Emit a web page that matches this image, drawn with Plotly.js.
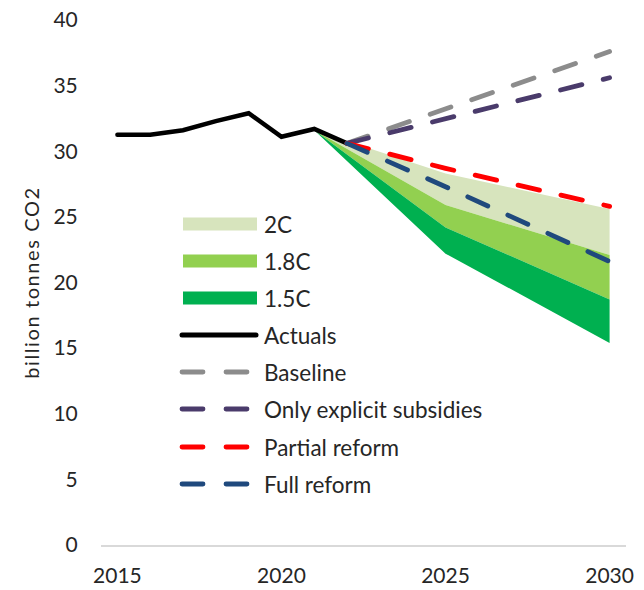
<!DOCTYPE html>
<html>
<head>
<meta charset="utf-8">
<script src="https://cdn.plot.ly/plotly-3.0.1.min.js"></script>
<style>
  html, body { margin: 0; padding: 0; background: #ffffff; }
  #chart { width: 644px; height: 590px; }
  .scatterlayer path.js-line { stroke-linecap: round; }
  .shapelayer path { stroke-linecap: round; }
  .ytitle { letter-spacing: 1.6px; }
</style>
</head>
<body>
<div id="chart"></div>
<script>
// ---- Data (billion tonnes CO2) ----
const actualYears = [2015, 2016, 2017, 2018, 2019, 2020, 2021, 2022];
const actuals     = [31.25, 31.25, 31.6, 32.3, 32.9, 31.1, 31.7, 30.6];

const projYears   = [2022, 2025, 2030];
const baseline    = [30.6, 33.2, 37.6];
const explicitOnly= [30.6, 32.5, 35.6];
const partialRef  = [30.6, 28.7, 25.8];
const fullRef     = [30.6, 27.3, 21.6];

const bandYears   = [2021, 2025, 2030];
const band2CTop   = [31.6, 28.3, 25.6];
const band2CBot   = [31.6, 25.9, 22.1];
const band18Bot   = [31.6, 24.2, 18.7];
const band15Bot   = [31.6, 22.2, 15.4];

const xTicks = [2015, 2020, 2025, 2030];
const yTicks = [0, 5, 10, 15, 20, 25, 30, 35, 40];

// ---- Styles ----
const FONT = 'Lato, "Open Sans", sans-serif';
const TXT = '#262626';
const colors = {
  c2: '#d7e4bd', c18: '#92d050', c15: '#00b050',
  actual: '#000000', base: '#8c8c8c', explicit: '#4a3b6b',
  partial: '#ff0000', full: '#1f497d'
};
const DASH = '22px,22px';

function band(name, top, bot, color) {
  return {
    type: 'scatter', mode: 'lines', name: name,
    x: bandYears.concat(bandYears.slice().reverse()),
    y: top.concat(bot.slice().reverse()),
    fill: 'toself', fillcolor: color,
    line: { width: 0, color: color },
    hoverinfo: 'skip', showlegend: false
  };
}
function line(name, x, y, color, dash, width) {
  return {
    type: 'scatter', mode: 'lines', name: name, x: x, y: y,
    line: { color: color, width: width, dash: dash },
    showlegend: false
  };
}

const traces = [
  band('2C', band2CTop, band2CBot, colors.c2),
  band('1.8C', band2CBot, band18Bot, colors.c18),
  band('1.5C', band18Bot, band15Bot, colors.c15),
  line('Actuals', actualYears, actuals, colors.actual, 'solid', 4.5),
  line('Baseline', projYears, baseline, colors.base, DASH, 4.8),
  line('Only explicit subsidies', projYears, explicitOnly, colors.explicit, DASH, 4.8),
  line('Partial reform', projYears, partialRef, colors.partial, DASH, 4.8),
  line('Full reform', projYears, fullRef, colors.full, DASH, 4.8)
];

// ---- Custom legend (paper coords) ----
const M = { l: 101, r: 18, t: 20, b: 45 };
const PW = 644 - M.l - M.r, PH = 590 - M.t - M.b;
const px = v => (v - M.l) / PW;
const py = v => (590 - M.b - v) / PH;

const legendItems = [
  { name: '2C', kind: 'patch', color: colors.c2, y: 224 },
  { name: '1.8C', kind: 'patch', color: colors.c18, y: 261 },
  { name: '1.5C', kind: 'patch', color: colors.c15, y: 298 },
  { name: 'Actuals', kind: 'solid', color: colors.actual, y: 335 },
  { name: 'Baseline', kind: 'dash', color: colors.base, y: 372 },
  { name: 'Only explicit subsidies', kind: 'dash', color: colors.explicit, y: 409 },
  { name: 'Partial reform', kind: 'dash', color: colors.partial, y: 447 },
  { name: 'Full reform', kind: 'dash', color: colors.full, y: 484 }
];
const shapes = [], annotations = [];
legendItems.forEach(it => {
  if (it.kind === 'patch') {
    shapes.push({ type: 'rect', xref: 'paper', yref: 'paper',
      x0: px(183), x1: px(257), y0: py(it.y - 6.5), y1: py(it.y + 6.5),
      fillcolor: it.color, line: { width: 0 } });
  } else {
    shapes.push({ type: 'line', xref: 'paper', yref: 'paper',
      x0: px(182), x1: px(it.kind === 'solid' ? 256 : 248), y0: py(it.y), y1: py(it.y),
      line: { color: it.color, width: it.kind === 'solid' ? 5 : 4.8,
              dash: it.kind === 'solid' ? 'solid' : '21px,23px' } });
  }
  annotations.push({ xref: 'paper', yref: 'paper', x: px(262), y: py(it.y),
    xanchor: 'left', yanchor: 'middle', showarrow: false, text: it.name,
    font: { family: FONT, size: 22.5, color: TXT } });
});

const layout = {
  width: 644, height: 590,
  margin: { l: M.l, r: M.r, t: M.t, b: M.b, pad: 0 },
  paper_bgcolor: '#ffffff', plot_bgcolor: '#ffffff',
  showlegend: false,
  font: { family: FONT, color: TXT },
  xaxis: {
    range: [2014.5, 2030.5], tickvals: xTicks, ticktext: xTicks.map(String),
    showgrid: false, zeroline: false, showline: true,
    linecolor: '#d9d9d9', linewidth: 1.5,
    ticks: 'outside', ticklen: 11, tickcolor: 'rgba(0,0,0,0)',
    tickfont: { family: FONT, size: 21, color: TXT }, fixedrange: true
  },
  yaxis: {
    range: [0, 40], tickvals: yTicks, ticktext: yTicks.map(String),
    showgrid: false, zeroline: false, showline: false,
    ticks: 'outside', ticklen: 18, tickcolor: 'rgba(0,0,0,0)',
    tickfont: { family: FONT, size: 21, color: TXT },
    title: { text: 'billion tonnes CO2', font: { family: FONT, size: 20, color: TXT }, standoff: 8 },
    fixedrange: true
  },
  shapes: shapes,
  annotations: annotations
};

Plotly.newPlot('chart', traces, layout, { displayModeBar: false, staticPlot: true });
</script>
</body>
</html>
